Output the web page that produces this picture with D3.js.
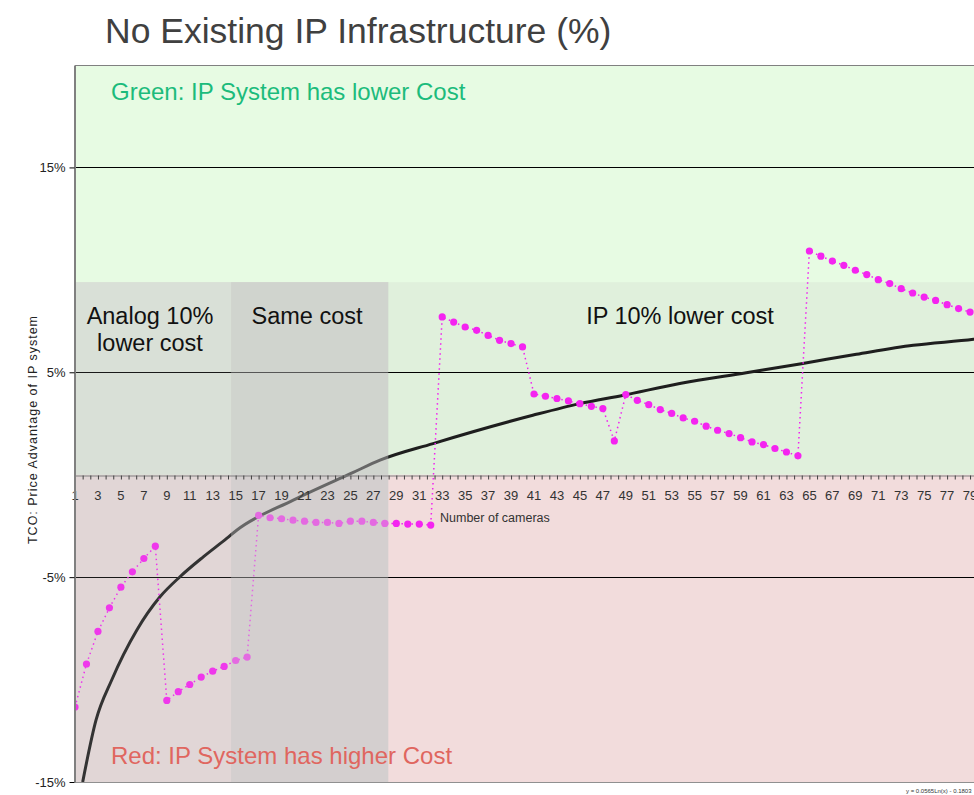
<!DOCTYPE html>
<html>
<head>
<meta charset="utf-8">
<script src="https://cdn.jsdelivr.net/npm/d3@7"></script>
<style>
    body { margin: 0; background: #ffffff; }
    svg { display: block; font-family: "Liberation Sans", Arial, sans-serif; }
</style>
</head>
<body>
<svg id="chart"></svg>
<script>
// number of cameras (categories)
const cameras = d3.range(1, 80);

// price advantage of IP system, %
const advantage = [
    -11.34, -9.24, -7.65, -6.50, -5.49, -4.74, -4.09, -3.49, -11.02, -10.59,
    -10.24, -9.88, -9.59, -9.36, -9.07, -8.90, -1.98, -2.10, -2.15, -2.22,
    -2.27, -2.33, -2.33, -2.38, -2.27, -2.27, -2.33, -2.38, -2.38, -2.41,
    -2.41, -2.46, 7.70, 7.45, 7.21, 7.05, 6.80, 6.56, 6.40, 6.24,
    3.94, 3.83, 3.72, 3.60, 3.47, 3.34, 3.23, 1.65, 3.91, 3.63,
    3.42, 3.18, 2.99, 2.77, 2.61, 2.37, 2.17, 2.01, 1.81, 1.60,
    1.47, 1.28, 1.11, 0.92, 10.92, 10.67, 10.43, 10.22, 9.98, 9.77,
    9.52, 9.33, 9.08, 8.87, 8.67, 8.51, 8.30, 8.11, 7.94
];

// logarithmic trendline
const trendX = [1.67, 2.83, 4.2, 6.38, 8.41, 10.15, 12.18, 14.22, 15.09, 20.02,
    25.2, 27.58, 32.2, 40.9, 45, 48.8, 53.7, 59.5, 64.3, 69.1, 74.05, 79.3, 80];
const trendY = [-15, -11.98, -10.02, -7.59, -5.96, -4.98, -4.01, -3.11, -2.71, -1.24,
    0.1, 0.71, 1.52, 2.9, 3.47, 3.88, 4.45, 4.98, 5.42, 5.88, 6.32, 6.61, 6.66];

// shaded zones: category breaks and the top of the "10%" band
const zoneBreaks = [1, 14.6, 28.3, 80];
const zoneLabels = [['Analog 10%', 'lower cost'], ['Same cost'], ['IP 10% lower cost']];
const bandTop = 9.4;

const yTicks = [-15, -5, 5, 15];
const xLabels = d3.range(1, 80, 2);

const width = 974;
const height = 795;
const margin = {top: 65, left: 75, bottom: 13};
const plotBottom = height - margin.bottom;

const svg = d3.select('#chart')
    .attr('width', width)
    .attr('height', height);

const x = d3.scaleLinear().domain([1, 80]).range([margin.left, margin.left + 79 * 11.475]);
const y = d3.scaleLinear().domain([-15, 20]).range([plotBottom, margin.top]);

svg.append('defs').append('clipPath')
    .attr('id', 'plot-clip')
    .append('rect')
    .attr('x', margin.left)
    .attr('y', margin.top)
    .attr('width', width - margin.left)
    .attr('height', plotBottom - margin.top);

const plot = svg.append('g').attr('clip-path', 'url(#plot-clip)');

// backgrounds: green above, green band, red below zero
plot.append('rect')
    .attr('x', margin.left).attr('y', y(20))
    .attr('width', width).attr('height', y(0) - y(20))
    .attr('fill', '#e7fbe3');
plot.append('rect')
    .attr('x', margin.left).attr('y', y(bandTop))
    .attr('width', width).attr('height', y(0) - y(bandTop))
    .attr('fill', '#e0f0dc');
plot.append('rect')
    .attr('x', margin.left).attr('y', y(0))
    .attr('width', width).attr('height', y(-15) - y(0))
    .attr('fill', '#f2dcdc');

// zone tints beneath the series (upper part, lower part)
const zoneFills = [['#dbe3d9', '#e4d8d8'], ['#d3d9cf', '#d9d1d1']];
zoneFills.forEach((f, i) => {
    plot.append('rect')
        .attr('x', x(zoneBreaks[i]))
        .attr('y', y(bandTop))
        .attr('width', x(zoneBreaks[i + 1]) - x(zoneBreaks[i]))
        .attr('height', y(0) - y(bandTop))
        .attr('fill', f[0]);
    plot.append('rect')
        .attr('x', x(zoneBreaks[i]))
        .attr('y', y(0))
        .attr('width', x(zoneBreaks[i + 1]) - x(zoneBreaks[i]))
        .attr('height', y(-15) - y(0))
        .attr('fill', f[1]);
});

// gridlines
plot.append('g')
    .selectAll('line')
    .data(yTicks.filter(d => d > -15))
    .enter()
    .append('line')
    .attr('x1', margin.left)
    .attr('x2', width)
    .attr('y1', d => Math.round(y(d)) + 0.5)
    .attr('y2', d => Math.round(y(d)) + 0.5)
    .attr('stroke', '#000000')
    .attr('stroke-width', 1);

// trendline
plot.append('path')
    .datum(trendX.map((d, i) => [d, trendY[i]]))
    .attr('fill', 'none')
    .attr('stroke', '#1e1e1e')
    .attr('stroke-width', 3)
    .attr('d', d3.line().x(d => x(d[0])).y(d => y(d[1])).curve(d3.curveMonotoneX));

// the data series: dotted line with round markers
const points = cameras.map((c, i) => ({c, v: advantage[i]}));
plot.append('path')
    .datum(points)
    .attr('fill', 'none')
    .attr('stroke', '#f020f0')
    .attr('stroke-width', 1.5)
    .attr('stroke-dasharray', '1.5,3.5')
    .attr('d', d3.line().x(d => x(d.c)).y(d => y(d.v)));
plot.append('g')
    .selectAll('circle')
    .data(points)
    .enter()
    .append('circle')
    .attr('cx', d => x(d.c))
    .attr('cy', d => y(d.v))
    .attr('r', 3.6)
    .attr('fill', '#f424f0');

// light grey veil over analog / same-cost zones
const veil = [0.12, 0.42];
veil.forEach((op, i) => {
    plot.append('rect')
        .attr('x', x(zoneBreaks[i]))
        .attr('y', y(bandTop))
        .attr('width', x(zoneBreaks[i + 1]) - x(zoneBreaks[i]))
        .attr('height', y(-15) - y(bandTop))
        .attr('fill', '#cccccc')
        .attr('opacity', op);
});

// x axis at zero
const xAxis = svg.append('g')
    .attr('transform', `translate(0,${Math.round(y(0)) + 0.5})`)
    .call(d3.axisBottom(x)
        .tickValues(d3.range(0, 120).map(k => 1 + k * 2 / 3).filter(d => d <= 80))
        .tickSize(4)
        .tickSizeOuter(0)
        .tickFormat(''));
xAxis.select('.domain').attr('stroke', '#808080');
xAxis.selectAll('.tick line').attr('stroke', '#404040');

svg.append('g')
    .selectAll('text')
    .data(xLabels)
    .enter()
    .append('text')
    .attr('x', d => x(d))
    .attr('y', y(0) + 25)
    .attr('text-anchor', 'middle')
    .attr('font-size', 13)
    .attr('fill', '#333333')
    .text(d => d);

svg.append('text')
    .attr('x', 440)
    .attr('y', y(0) + 47)
    .attr('font-size', 12.5)
    .attr('fill', '#333333')
    .text('Number of cameras');

// frame: top border, bottom line
svg.append('line')
    .attr('x1', margin.left).attr('x2', width)
    .attr('y1', margin.top + 0.5).attr('y2', margin.top + 0.5)
    .attr('stroke', '#808080');
svg.append('line')
    .attr('x1', width).attr('x2', margin.left)
    .attr('y1', plotBottom + 0.5).attr('y2', plotBottom + 0.5)
    .attr('stroke', '#909090');

const yAxis = svg.append('g')
    .attr('transform', `translate(${margin.left - 0.5},0)`)
    .call(d3.axisLeft(y)
        .tickValues(yTicks)
        .tickSize(5)
        .tickSizeOuter(0)
        .tickPadding(4)
        .tickFormat(d => `${d}%`));
yAxis.select('.domain').attr('stroke', '#808080').attr('stroke-width', 2);
yAxis.selectAll('.tick line').attr('stroke', '#000000');
yAxis.selectAll('.tick text')
    .attr('font-size', 13)
    .attr('font-family', '"Liberation Sans", Arial, sans-serif')
    .attr('fill', '#222222');

svg.append('text')
    .attr('transform', 'rotate(-90)')
    .attr('x', -430)
    .attr('y', 37)
    .attr('text-anchor', 'middle')
    .attr('font-size', 12.5)
    .attr('textLength', 228)
    .attr('lengthAdjust', 'spacing')
    .attr('fill', '#222222')
    .text('TCO: Price Advantage of IP system');

// zone captions
const zoneCenters = [150, 307, 680];
zoneLabels.forEach((lines, i) => {
    lines.forEach((t, j) => {
        svg.append('text')
            .attr('x', zoneCenters[i])
            .attr('y', 324 + j * 27)
            .attr('text-anchor', 'middle')
            .attr('font-size', 23.5)
            .attr('fill', '#111111')
            .text(t);
    });
});

svg.append('text')
    .attr('x', 111)
    .attr('y', 100)
    .attr('font-size', 24)
    .attr('fill', '#1cbb7c')
    .text('Green: IP System has lower Cost');

svg.append('text')
    .attr('x', 111)
    .attr('y', 764)
    .attr('font-size', 24)
    .attr('fill', '#e0665f')
    .text('Red: IP System has higher Cost');

svg.append('text')
    .attr('x', 105)
    .attr('y', 43)
    .attr('font-size', 35.5)
    .attr('fill', '#404040')
    .text('No Existing IP Infrastructure (%)');

svg.append('text')
    .attr('x', 906)
    .attr('y', 793)
    .attr('font-size', 6)
    .attr('fill', '#333333')
    .text('y = 0.0565Ln(x) - 0.1803');
</script>
</body>
</html>
